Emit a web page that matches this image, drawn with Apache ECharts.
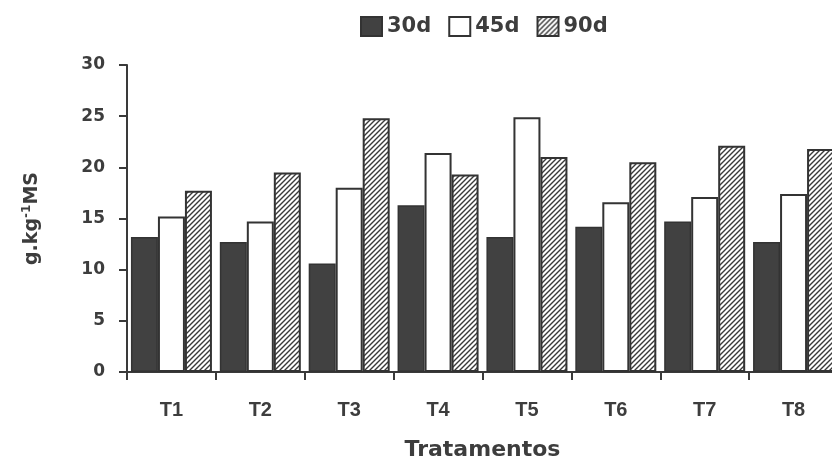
<!DOCTYPE html>
<html>
<head>
<meta charset="utf-8">
<script src="https://cdn.jsdelivr.net/npm/echarts@6/dist/echarts.min.js"></script>
<style>
html,body{margin:0;padding:0;background:#fff;}
#chart{width:832px;height:459px;}
</style>
</head>
<body>
<div id="chart"></div>
<script>
var categories = ['T1','T2','T3','T4','T5','T6','T7','T8'];
var seriesNames = ['30d','45d','90d'];
var values30 = [13.2, 12.7, 10.6, 16.3, 13.2, 14.2, 14.7, 12.7];
var values45 = [15.2, 14.7, 18.0, 21.4, 24.9, 16.6, 17.1, 17.4];
var values90 = [17.7, 19.5, 24.8, 19.3, 21.0, 20.5, 22.1, 21.8];
var yTicks = [0, 5, 10, 15, 20, 25, 30];

var TXT = '#3d3d3d';
var LINE = '#3a3a3a';

function hatch() {
  var s = 5;
  var c = document.createElement('canvas');
  c.width = s; c.height = s;
  var g = c.getContext('2d');
  g.fillStyle = '#ffffff';
  g.fillRect(0, 0, s, s);
  g.strokeStyle = '#3a3a3a';
  g.lineWidth = 1.4;
  g.beginPath();
  g.moveTo(-1, s + 1); g.lineTo(s + 1, -1);
  g.moveTo(-1, 1); g.lineTo(1, -1);
  g.moveTo(s - 1, s + 1); g.lineTo(s + 1, s - 1);
  g.stroke();
  return { image: c, repeat: 'repeat' };
}
var hatchFill = hatch();

var chart = echarts.init(document.getElementById('chart'), null, {renderer: 'canvas'});
var option = {
  animation: false,
  backgroundColor: '#ffffff',
  legend: {
    left: 355, top: 11,
    icon: 'rect',
    itemWidth: 21, itemHeight: 19, itemGap: 17,
    textStyle: {color: TXT, fontFamily: 'DejaVu Sans', fontWeight: 'bold', fontSize: 21},
    data: seriesNames
  },
  grid: {left: 127, right: -6, top: 65, bottom: 87, containLabel: false, outerBoundsMode: 'none'},
  xAxis: {
    type: 'category',
    data: categories,
    boundaryGap: true,
    name: 'Tratamentos',
    nameLocation: 'middle',
    nameGap: 67,
    nameTextStyle: {color: TXT, fontFamily: 'DejaVu Sans', fontWeight: 'bold', fontSize: 22},
    axisLine: {show: true, lineStyle: {color: LINE, width: 2}},
    axisTick: {show: true, length: 8, alignWithLabel: false, lineStyle: {color: LINE, width: 2}},
    axisLabel: {color: TXT, margin: 28, fontFamily: 'Liberation Sans', fontWeight: 'bold', fontSize: 20},
    splitLine: {show: false}
  },
  yAxis: {
    type: 'value',
    min: yTicks[0], max: yTicks[yTicks.length - 1], interval: 5,
    name: '{a|g.kg}{s|-1}{a|MS}',
    nameLocation: 'middle',
    nameRotate: 90,
    nameGap: 84,
    nameTextStyle: {
      color: TXT,
      rich: {
        a: {color: TXT, fontFamily: 'DejaVu Sans', fontWeight: 'bold', fontSize: 19},
        s: {color: TXT, fontFamily: 'DejaVu Sans', fontWeight: 'bold', fontSize: 12, padding: [0, 0, 10, 0]}
      }
    },
    axisLine: {show: true, lineStyle: {color: LINE, width: 2}},
    axisTick: {show: true, length: 8, lineStyle: {color: LINE, width: 2}},
    axisLabel: {color: TXT, margin: 22, fontFamily: 'DejaVu Sans', fontWeight: 'bold', fontSize: 17},
    splitLine: {show: false}
  },
  series: [
    {
      name: seriesNames[0], type: 'bar', data: values30,
      barWidth: 27, barGap: '0%',
      itemStyle: {color: '#414141', borderColor: '#333333', borderWidth: 1.5}
    },
    {
      name: seriesNames[1], type: 'bar', data: values45,
      barWidth: 27, barGap: '0%',
      itemStyle: {color: '#ffffff', borderColor: '#333333', borderWidth: 2}
    },
    {
      name: seriesNames[2], type: 'bar', data: values90,
      barWidth: 27, barGap: '0%',
      itemStyle: {color: hatchFill, borderColor: '#333333', borderWidth: 2}
    }
  ]
};
chart.setOption(option);
</script>
</body>
</html>
